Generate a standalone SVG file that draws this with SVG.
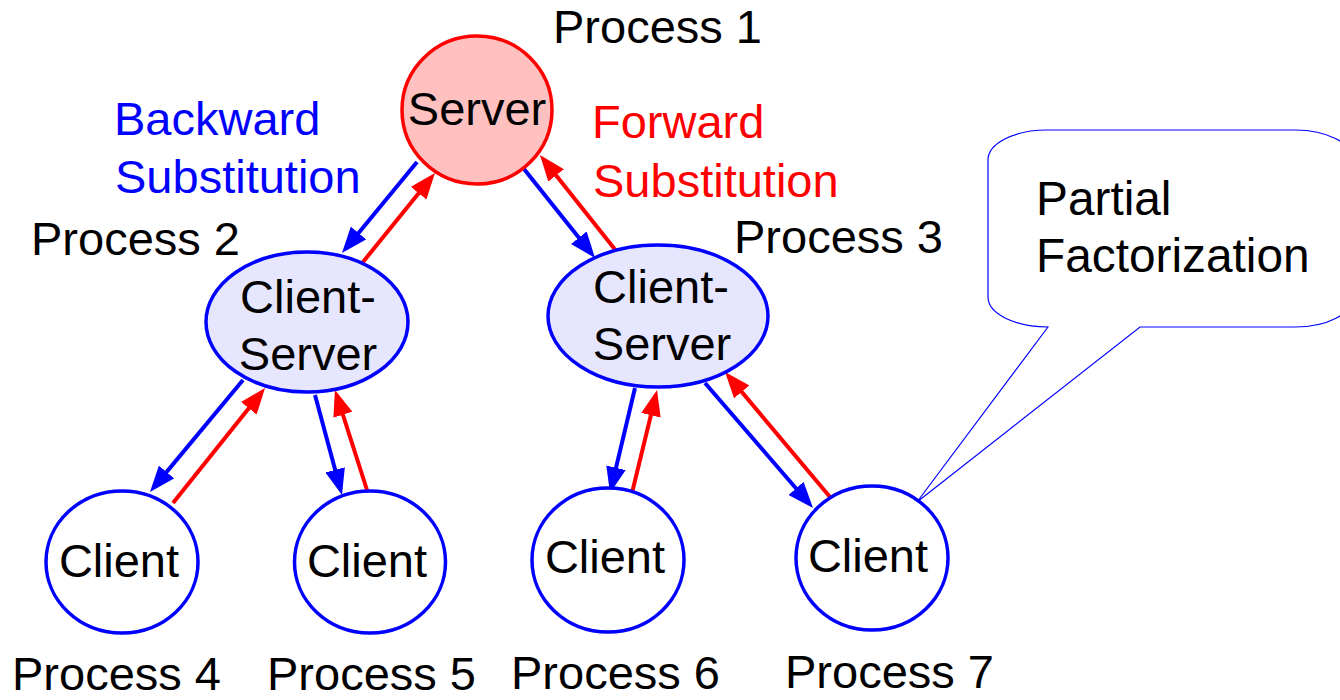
<svg xmlns="http://www.w3.org/2000/svg" width="1340" height="700" viewBox="0 0 1340 700">
  <style>
    text { font-family: "Liberation Sans", Arial, sans-serif; font-size: 47px; fill: #000; }
    .mid { text-anchor: middle; }
    .blue { fill: #0000ff; }
    .red { fill: #ff0000; }
    .node { stroke: #0000ff; stroke-width: 3.5; }
    .client { fill: #ffffff; }
    .cs { fill: #e6e6ff; }
    .server { fill: #ffc0c0; stroke: #ff0000; stroke-width: 3.5; }
    .down { stroke: #0000ff; stroke-width: 4; fill: none; marker-end: url(#ab); }
    .up { stroke: #ff0000; stroke-width: 4; fill: none; marker-end: url(#ar); }
  </style>
  <defs>
    <marker id="ab" viewBox="0 0 26 20" refX="20" refY="10" markerWidth="26" markerHeight="20" markerUnits="userSpaceOnUse" orient="auto">
      <path d="M0,0 L26,10 L0,20 z" fill="#0000ff"/>
    </marker>
    <marker id="ar" viewBox="0 0 26 20" refX="20" refY="10" markerWidth="26" markerHeight="20" markerUnits="userSpaceOnUse" orient="auto">
      <path d="M0,0 L26,10 L0,20 z" fill="#ff0000"/>
    </marker>
  </defs>
  <rect width="1340" height="700" fill="#ffffff"/>

  <g id="callout">
    <path d="M1048,327 L917,502 L1140,327 L1295,327 A58,30 0 0 0 1353,297 L1353,160 A58,30 0 0 0 1295,130 L1047,130 A59,30 0 0 0 988,160 L988,297 A60,30 0 0 0 1048,327 Z" fill="#ffffff" stroke="#0000ff" stroke-width="1.2"/>
    <text x="1036" y="215" style="font-size:47.8px">Partial</text>
    <text x="1036" y="272" style="font-size:47.8px">Factorization</text>
  </g>

  <g id="connectors">
    <line class="down" x1="417" y1="162" x2="345.8" y2="248.4"/>
    <line class="up" x1="363" y1="262" x2="431.2" y2="177.7"/>
    <line class="down" x1="524" y1="169" x2="591.3" y2="253.3"/>
    <line class="up" x1="617" y1="252" x2="543.7" y2="159.7"/>
    <line class="down" x1="243" y1="380" x2="153.8" y2="487.4"/>
    <line class="up" x1="173" y1="503" x2="261.3" y2="392.7"/>
    <line class="down" x1="315" y1="395" x2="340.4" y2="489.2"/>
    <line class="up" x1="367" y1="490" x2="336.8" y2="395.7"/>
    <line class="down" x1="635" y1="388" x2="611.4" y2="487.2"/>
    <line class="up" x1="632" y1="493" x2="655.6" y2="395.8"/>
    <line class="down" x1="705" y1="383" x2="809.1" y2="503.5"/>
    <line class="up" x1="830" y1="497" x2="728.9" y2="376.6"/>
  </g>

  <g id="process1">
    <ellipse class="server" cx="477" cy="110" rx="75" ry="74"/>
    <text class="mid" x="477" y="125">Server</text>
    <text x="553" y="43">Process 1</text>
  </g>

  <g id="process2">
    <ellipse class="node cs" cx="307" cy="322" rx="101" ry="70"/>
    <text class="mid" x="308" y="313">Client-</text>
    <text class="mid" x="308" y="370">Server</text>
    <text x="31" y="255">Process 2</text>
  </g>

  <g id="process3">
    <ellipse class="node cs" cx="658" cy="316" rx="110" ry="71"/>
    <text class="mid" x="661" y="303">Client-</text>
    <text class="mid" x="662" y="360">Server</text>
    <text x="734" y="253">Process 3</text>
  </g>

  <g id="process4">
    <ellipse class="node client" cx="122" cy="562" rx="76" ry="71"/>
    <text class="mid" x="119" y="577">Client</text>
    <text x="12" y="690">Process 4</text>
  </g>

  <g id="process5">
    <ellipse class="node client" cx="370" cy="562" rx="75.5" ry="71"/>
    <text class="mid" x="367" y="577">Client</text>
    <text x="267" y="690">Process 5</text>
  </g>

  <g id="process6">
    <ellipse class="node client" cx="608" cy="560" rx="76" ry="72"/>
    <text class="mid" x="605" y="573">Client</text>
    <text x="511" y="689">Process 6</text>
  </g>

  <g id="process7">
    <ellipse class="node client" cx="872" cy="558" rx="76" ry="72"/>
    <text class="mid" x="868" y="572">Client</text>
    <text x="785" y="688">Process 7</text>
  </g>

  <g id="labels">
    <text class="blue" x="114" y="135">Backward</text>
    <text class="blue" x="115" y="193">Substitution</text>
    <text class="red" x="592" y="138">Forward</text>
    <text class="red" x="593" y="197">Substitution</text>
  </g>
</svg>
